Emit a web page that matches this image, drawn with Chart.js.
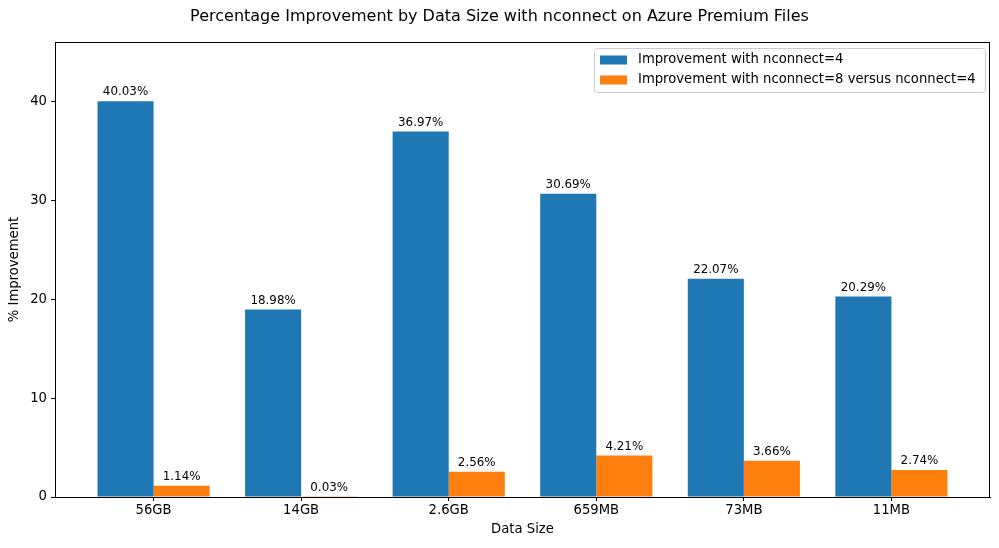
<!DOCTYPE html>
<html>
<head>
<meta charset="utf-8">
<script src="https://cdn.jsdelivr.net/npm/chart.js@4/dist/chart.umd.min.js"></script>
<style>
  html, body { margin: 0; padding: 0; background: #fff; }
  #wrap { width: 999px; height: 548px; position: relative; }
</style>
</head>
<body>
<div id="wrap"><canvas id="c"></canvas></div>
<script>
const categories = ["56GB", "14GB", "2.6GB", "659MB", "73MB", "11MB"];
const nconnect4 = [40.03, 18.98, 36.97, 30.69, 22.07, 20.29];
const nconnect8vs4 = [1.14, 0.03, 2.56, 4.21, 3.66, 2.74];
const seriesNames = ["Improvement with nconnect=4", "Improvement with nconnect=8 versus nconnect=4"];
const yTicks = [0, 10, 20, 30, 40];
const chartTitle = "Percentage Improvement by Data Size with nconnect on Azure Premium Files";
const xTitle = "Data Size";
const yTitle = "% Improvement";

const FONT = "'DejaVu Sans', sans-serif";
const BAR_W = 0.38;
const xSpan = (categories.length - 1) + 2 * BAR_W;
const xMargin = 0.05 * xSpan;
const yMax = Math.max(...nconnect4, ...nconnect8vs4) * 1.15;

const toPts = arr => arr.map((v, i) => ({ x: i, y: v }));

const decor = {
  id: 'decor',
  afterDraw(chart) {
    const ctx = chart.ctx;
    const a = chart.chartArea;
    ctx.save();
    // frame
    ctx.strokeStyle = '#000';
    ctx.lineWidth = 1;
    ctx.strokeRect(Math.round(a.left) + 0.5, Math.round(a.top) + 0.5, Math.round(a.right - a.left) - 1, Math.round(a.bottom - a.top));
    // title
    ctx.fillStyle = '#000';
    ctx.font = `16px ${FONT}`;
    ctx.textAlign = 'center';
    ctx.textBaseline = 'middle';
    ctx.fillText(chartTitle, chart.width / 2, 17);
    // axis titles
    ctx.font = `13.2px ${FONT}`;
    ctx.fillText(xTitle, (a.left + a.right) / 2, 530);
    ctx.save();
    ctx.translate(15, (a.top + a.bottom) / 2);
    ctx.rotate(-Math.PI / 2);
    ctx.fillText(yTitle, 0, 0);
    ctx.restore();
    // data labels
    ctx.font = `11.9px ${FONT}`;
    ctx.textBaseline = 'bottom';
    chart.data.datasets.forEach((ds, di) => {
      const meta = chart.getDatasetMeta(di);
      meta.data.forEach((el, i) => {
        ctx.fillStyle = '#000';
        ctx.fillText(ds.data[i].y.toFixed(2) + '%', el.x, el.y - 3);
      });
    });
    // legend
    const lx = 594, ly = 48, lw = 391, lh = 44;
    ctx.fillStyle = 'rgba(255,255,255,0.8)';
    ctx.strokeStyle = '#cccccc';
    ctx.beginPath();
    ctx.roundRect(lx + 0.5, ly + 0.5, lw, lh, 3);
    ctx.fill();
    ctx.stroke();
    ctx.font = `13.2px ${FONT}`;
    ctx.textAlign = 'left';
    ctx.textBaseline = 'middle';
    chart.data.datasets.forEach((ds, di) => {
      const cy = 60 + di * 20;
      ctx.fillStyle = ds.backgroundColor;
      ctx.fillRect(600, cy - 4.5, 27, 9);
      ctx.fillStyle = '#000';
      ctx.fillText(ds.label, 638, cy);
    });
    ctx.restore();
  }
};

new Chart(document.getElementById('c'), {
  type: 'bar',
  data: {
    datasets: [
      { label: seriesNames[0], data: toPts(nconnect4), backgroundColor: '#1f77b4', borderWidth: 0, inflateAmount: 0 },
      { label: seriesNames[1], data: toPts(nconnect8vs4), backgroundColor: '#ff7f0e', borderWidth: 0, inflateAmount: 0 }
    ]
  },
  options: {
    responsive: true,
    maintainAspectRatio: false,
    animation: false,
    layout: { padding: { top: 42, right: 9, left: 0, bottom: 0 } },
    datasets: { bar: { categoryPercentage: 2 * BAR_W, barPercentage: 1.0 } },
    plugins: { legend: { display: false }, title: { display: false }, tooltip: { enabled: false } },
    scales: {
      x: {
        type: 'linear',
        offset: false,
        min: -BAR_W - xMargin,
        max: (categories.length - 1) + BAR_W + xMargin,
        afterBuildTicks: s => { s.ticks = categories.map((c, i) => ({ value: i })); },
        afterFit: s => { s.height = 51; },
        ticks: {
          callback: v => categories[v],
          color: '#000',
          font: { family: FONT, size: 13.2 },
          padding: 2,
          maxRotation: 0,
          autoSkip: false
        },
        grid: { display: true, offset: false, drawOnChartArea: false, drawTicks: true, tickLength: 4, color: '#000' },
        border: { display: true, color: '#000' }
      },
      y: {
        type: 'linear',
        min: 0,
        max: yMax,
        afterBuildTicks: s => { s.ticks = yTicks.map(v => ({ value: v })); },
        afterFit: s => { s.width = 55; },
        ticks: {
          color: '#000',
          font: { family: FONT, size: 13.2 },
          padding: 4
        },
        grid: { display: true, drawOnChartArea: false, drawTicks: true, tickLength: 4, color: '#000' },
        border: { display: true, color: '#000' }
      }
    }
  },
  plugins: [decor]
});
</script>
</body>
</html>
